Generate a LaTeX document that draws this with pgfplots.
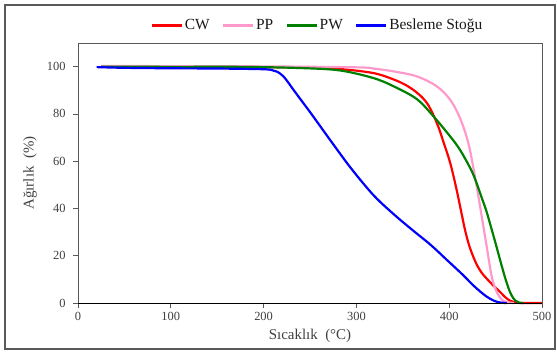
\documentclass[border=0pt]{standalone}
\usepackage{fontspec}
\setmainfont{Liberation Serif}
\usepackage{pgfplots}
\pgfplotsset{compat=1.18}
\definecolor{axgray}{HTML}{595959}
\definecolor{txtgray}{HTML}{404040}
\definecolor{cwred}{HTML}{FF0000}
\definecolor{pppink}{HTML}{FF99CC}
\definecolor{pwgreen}{HTML}{008000}
\definecolor{bsblue}{HTML}{0000FF}
\begin{document}
\begin{tikzpicture}
\begin{axis}[
  scale only axis,
  width=464bp, height=260bp,
  xmin=0, xmax=500, ymin=0, ymax=110,
  xtick={0,100,...,500},
  ytick={0,20,...,100},
  tick align=outside,
  major tick length=5bp,
  xtick pos=bottom, ytick pos=left,
  minor tick num=0,
  axis line style={axgray, line width=0.9pt},
  every tick/.style={axgray, line width=0.8pt},
  /pgf/number format/assume math mode=true,
  ticklabel style={font=\fontsize{12.5}{14}\selectfont, text=txtgray},
  yticklabel style={xshift=-4bp},
  xticklabel style={yshift=-1bp},
  xlabel={Sıcaklık\ \ (°C)},
  ylabel={Ağırlık\ \ (\%)},
  xlabel style={at={(axis description cs:0.5,0)}, anchor=center, yshift=-33bp,
    font=\fontsize{15}{17}\selectfont, text=txtgray},
  ylabel style={at={(axis description cs:-0.1034,0.5)}, anchor=center, rotate=0,
    font=\fontsize{15}{17}\selectfont, text=txtgray},
  legend columns=-1,
  legend style={at={(0.516,1.068)}, anchor=center, draw=none, fill=none,
    font=\fontsize{15.5}{17}\selectfont, text=black!90,
    /tikz/every even column/.append style={column sep=10bp},
    inner sep=0pt},
  legend image code/.code={\draw[#1, line width=2.4pt] (0bp,0bp) -- (30bp,0bp);},
  clip=false,
]
% CW
\addplot[cwred, line width=2.2pt, smooth, tension=0.55] coordinates {
(25,100.1) (100,99.9) (200,99.8) (250,99.5) (282,99.0) (318,97.3) (340,94.6)
(355,91.8) (367,88.4) (376,84.6) (383,79.5) (389,73.8) (394,67.9) (399,62.0) (403,56.4) (408,47.9)
(413,38.5) (417,31.0) (421,25.0) (425,20.5) (430,16.0) (435,12.8) (440,10.5)
(447,7.6) (455,4.6) (460,2.6) (465,1.1) (471,0.3) (478,0) (500,0)};
\addlegendentry{CW}
% PP
\addplot[pppink, line width=2.2pt, smooth, tension=0.55] coordinates {
(25,100.3) (100,100.2) (200,100.1) (300,99.7) (318,99.2) (340,98.0) (365,95.9)
(386.5,91.7) (401,86.0) (411.6,78.3) (420.6,67.7) (428,53.0) (433.2,41.0)
(440.4,23.9) (445.8,11.2) (450,5.8) (453,3.4) (457,1.3) (462,0.3) (470,0)};
\addlegendentry{PP}
% PW
\addplot[pwgreen, line width=2.2pt, smooth, tension=0.55] coordinates {
(25,100.0) (100,99.9) (175,99.9) (240,99.4) (282,98.4) (318,95.2) (340,91.7)
(365,86.3) (383,79.0) (401,70.5) (410,65.8) (418,60.5) (425,55.2) (430,50.2)
(435,44.6) (440,39.0) (445,32.2) (450,25.2) (455,18.0) (460,11.0) (464,6.2)
(467,3.4) (471,1.1) (475,0.2) (480,0)};
\addlegendentry{PW}
% Besleme Stogu
\addplot[bsblue, line width=2.2pt, smooth, tension=0.55] coordinates {
(20,99.8) (50,99.5) (100,99.3) (150,99.2) (200,98.9) (210,98.4) (215,97.8)
(221,96.0) (226,93.6) (232,90.3) (242,85.0) (250,80.8) (257,77.0) (272,68.8)
(293,57.6) (313,48.0) (325,43.0) (343,36.6) (360,31.0) (380,24.6) (397,18.4)
(415,11.8) (425,7.8) (433,5.0) (440,2.8) (448,1.0) (455,0.2) (462,0)};
\addlegendentry{Besleme Stoğu}
\draw[black, line width=0.9pt] (axis cs:0,0) -- (axis cs:500,0);
\end{axis}
\draw[axgray, line width=1.6pt] (-73bp,-46bp) rectangle (477bp,298bp);
\pgfresetboundingbox
\path (-78bp,-50bp) rectangle (479bp,303bp);
\end{tikzpicture}
\end{document}
